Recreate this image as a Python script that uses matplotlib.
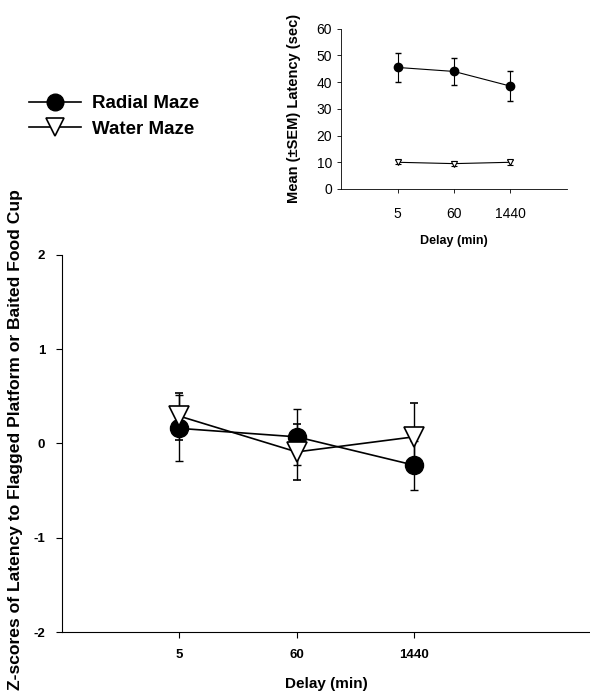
import numpy as np
import matplotlib
matplotlib.use("Agg")
from matplotlib import pyplot as plt
from matplotlib.lines import Line2D

plt.rcParams['font.family'] = ['Liberation Sans', 'DejaVu Sans']
plt.rcParams['axes.unicode_minus'] = False

delays = ["5", "60", "1440"]

# main panel: z-scores
radial_z = [0.16, 0.07, -0.23]
radial_z_sem = [0.35, 0.30, 0.26]
water_z = [0.29, -0.09, 0.07]
water_z_sem = [0.25, 0.30, 0.36]

# inset: raw latency (sec)
radial_lat = [45.5, 44.0, 38.5]
radial_lat_sem = [5.5, 5.0, 5.5]
water_lat = [10.0, 9.5, 10.0]
water_lat_sem = [0.8, 0.8, 1.0]

xpos = np.arange(1, len(delays) + 1)

fig = plt.figure(figsize=(5.9, 7.0), dpi=100)

# main plot
ax = fig.add_axes([0.105, 0.097, 0.895, 0.539])
ax.errorbar(xpos, radial_z, yerr=radial_z_sem, color='black', marker='o',
            markersize=13, mfc='black', mec='black', lw=1.2, capsize=3,
            elinewidth=1, zorder=3)
ax.errorbar(xpos, water_z, yerr=water_z_sem, color='black', marker='v',
            markersize=14, mfc='white', mec='black', mew=1.2, lw=1.2,
            capsize=3, elinewidth=1, zorder=4)
ax.set_xlim(0, 4.5)
ax.set_ylim(-2, 2)
ax.set_yticks([-2, -1, 0, 1, 2])
ax.set_xticks(xpos)
ax.set_xticklabels(delays)
for s in ['top', 'right']:
    ax.spines[s].set_visible(False)
ax.tick_params(direction='out', length=4, labelsize=9.5, pad=8)
for t in ax.get_xticklabels() + ax.get_yticklabels():
    t.set_fontweight('bold')
ax.set_xlabel("Delay (min)", fontsize=11, fontweight='bold', labelpad=12)
ax.set_ylabel("Z-scores of Latency to Flagged Platform or Baited Food Cup",
              fontsize=12.6, fontweight='bold')
ax.yaxis.set_label_coords(-0.074, 0.51)

# inset
ins = fig.add_axes([0.578, 0.73, 0.383, 0.229])
ins.errorbar(xpos, radial_lat, yerr=radial_lat_sem, color='black', marker='o',
             markersize=6, lw=0.8, capsize=2, elinewidth=0.8, zorder=3)
ins.errorbar(xpos, water_lat, yerr=water_lat_sem, color='black', marker='v',
             markersize=5, mfc='white', mec='black', mew=0.8, lw=0.8,
             capsize=2, elinewidth=0.8, zorder=3)
ins.set_xlim(0, 4)
ins.set_ylim(0, 60)
ins.set_yticks([0, 10, 20, 30, 40, 50, 60])
ins.set_xticks(xpos)
ins.set_xticklabels(delays)
for s in ['top', 'right']:
    ins.spines[s].set_visible(False)
for s in ['left', 'bottom']:
    ins.spines[s].set_linewidth(0.6)
ins.tick_params(direction='out', length=3, labelsize=10, width=0.6)
ins.tick_params(axis='x', pad=10)
ins.set_xlabel("Delay (min)", fontsize=9, fontweight='bold', labelpad=10)
ins.set_ylabel("Mean (\u00b1SEM) Latency (sec)", fontsize=10.5,
               fontweight='bold')
ins.yaxis.set_label_coords(-0.178, 0.5)

# legend
handles = [
    Line2D([], [], color='black', marker='o', markersize=12, lw=1.2),
    Line2D([], [], color='black', marker='v', markersize=13, mfc='white',
           mew=1.2, lw=1.2),
]
labels = ["Radial Maze", "Water Maze"]
fig.legend(handles, labels, loc='upper left', bbox_to_anchor=(0.02, 0.888),
           frameon=False, prop={'size': 13.5, 'weight': 'bold'},
           handlelength=2.8, labelspacing=0.45, handletextpad=0.6)

fig.savefig("out.png", dpi=100)
